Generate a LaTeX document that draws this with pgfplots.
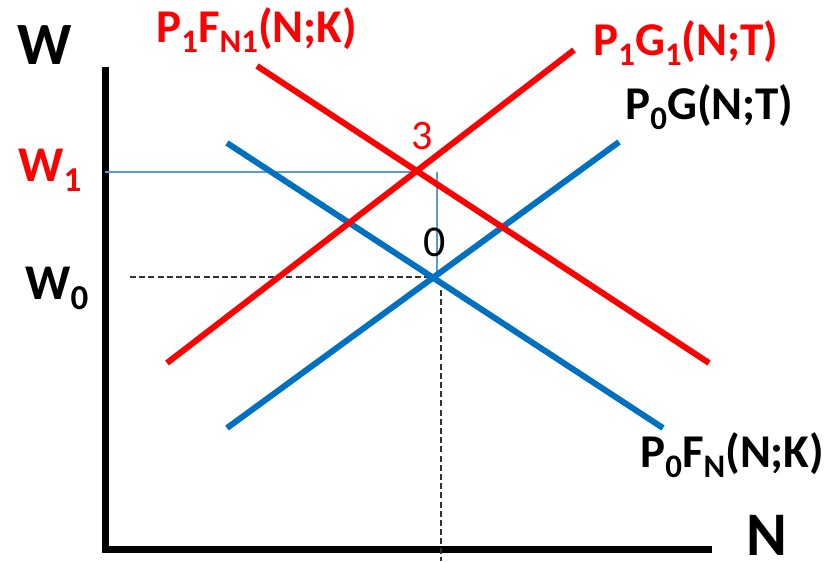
\documentclass[border=0pt]{standalone}
\usepackage{pgfplots}
\pgfplotsset{compat=1.18}
\usepackage{fontspec}
\setmainfont{Carlito}
\definecolor{myred}{RGB}{255,0,0}
\definecolor{myblue}{RGB}{0,112,192}
\definecolor{thinblue}{RGB}{91,155,213}
\newcommand\sub[1]{\raisebox{-0.2em}{\scalebox{0.7}{#1}}}
\begin{document}
\begin{tikzpicture}
\begin{axis}[
  width=414pt, height=280.5pt, scale only axis,
  xmin=0, xmax=828, ymin=0, ymax=561,
  hide axis, clip=false,
]
\coordinate (bl) at (axis cs:0,0);
\coordinate (tr) at (axis cs:828,561);
% axes
\addplot[black, line width=3.5pt, line join=miter] coordinates {(105,494) (105,9)};
\addplot[black, line width=3.5pt] coordinates {(102,12) (712,12)};
% guide lines
\addplot[thinblue, line width=0.75pt] coordinates {(105,389) (422,389)};
\addplot[thinblue, line width=0.75pt] coordinates {(437,389) (437,284)};
\addplot[black!80, line width=0.6pt, dash pattern=on 3pt off 1.6pt] coordinates {(130,284) (434,284)};
\addplot[black!80, line width=0.6pt, dash pattern=on 3pt off 1.6pt] coordinates {(441,271) (441,0)};
% curves
\addplot[myblue, line width=3pt] coordinates {(227,133) (619,419)};
\addplot[myblue, line width=3pt] coordinates {(227,418) (663,133)};
\addplot[myred, line width=3pt] coordinates {(257,495) (709,198)};
\addplot[myred, line width=3pt] coordinates {(167,198) (574,511)};
% labels
\node[anchor=base west, inner sep=0pt, text=myred, font=\fontsize{23.5}{25}\selectfont\bfseries] at (axis cs:156,518) {P\sub{1}F\sub{N1}(N;K)};
\node[anchor=base west, inner sep=0pt, text=myred, font=\fontsize{23.5}{25}\selectfont\bfseries] at (axis cs:593,505) {P\sub{1}G\sub{1}(N;T)};
\node[anchor=base west, inner sep=0pt, text=black, font=\fontsize{23.5}{25}\selectfont\bfseries] at (axis cs:625,441) {P\sub{0}G(N;T)};
\node[anchor=base west, inner sep=0pt, text=black, font=\fontsize{23.5}{25}\selectfont\bfseries] at (axis cs:640,93) {P\sub{0}F\sub{N}(N;K)};
\node[anchor=base west, inner sep=0pt, text depth=0pt, text=black, font=\fontsize{31}{33}\selectfont\bfseries] at (axis cs:746,5) {N};
\node[anchor=base west, inner sep=0pt, text=black, font=\fontsize{30}{32}\selectfont\bfseries] at (axis cs:17,496) {W};
\node[anchor=base west, inner sep=0pt, text=myred, font=\fontsize{25}{27}\selectfont\bfseries] at (axis cs:18,379) {W\sub{1}};
\node[anchor=base west, inner sep=0pt, text=black, font=\fontsize{25}{27}\selectfont\bfseries] at (axis cs:25,261) {W\sub{0}};
\node[anchor=base west, inner sep=0pt, text=myred, font=\fontsize{21}{23}\selectfont] at (axis cs:411,411) {3};
\node[anchor=base west, inner sep=0pt, text=black, font=\fontsize{22}{24}\selectfont] at (axis cs:423,304) {0};
\end{axis}
\pgfresetboundingbox
\path (bl) rectangle (tr);
\end{tikzpicture}
\end{document}
